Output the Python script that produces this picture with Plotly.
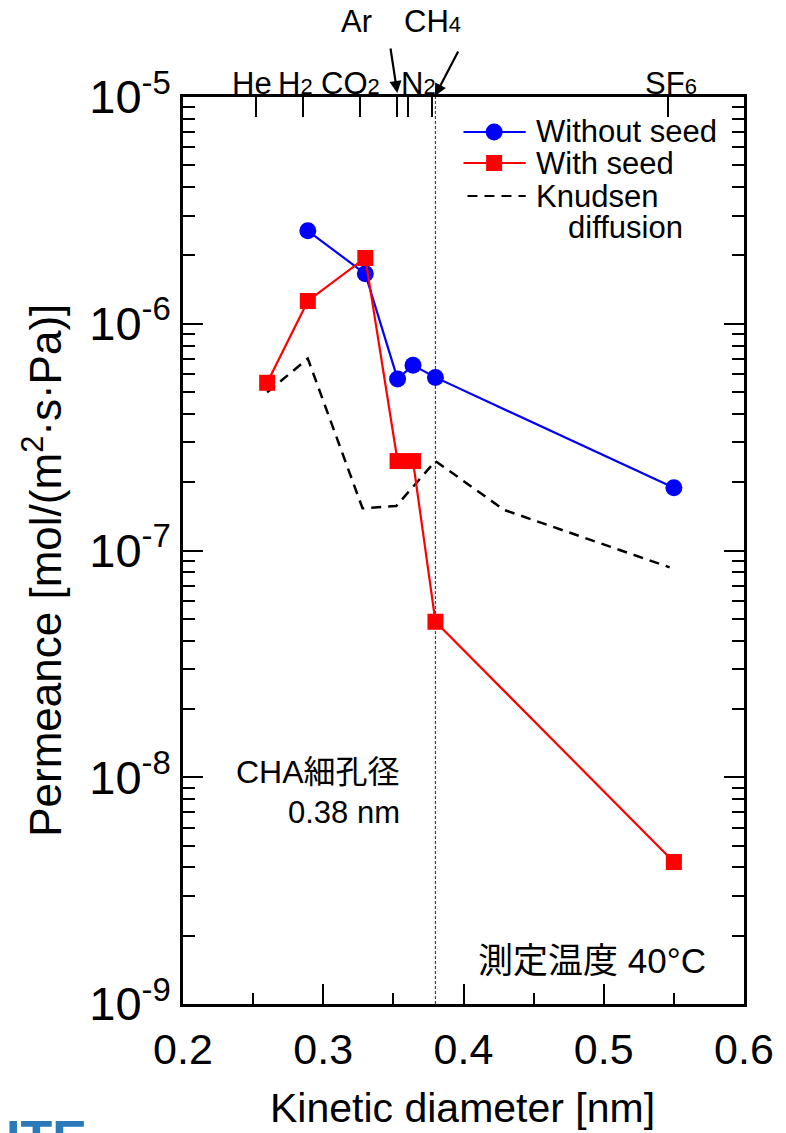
import plotly.graph_objects as go

# ---------------- data ----------------
x_without = [0.289, 0.33, 0.353, 0.364, 0.38, 0.55]
y_without = [2.57e-6, 1.66e-6, 5.71e-7, 6.56e-7, 5.80e-7, 1.89e-7]

x_with = [0.26, 0.289, 0.33, 0.353, 0.364, 0.38, 0.55]
y_with = [5.49e-7, 1.26e-6, 1.95e-6, 2.48e-7, 2.48e-7, 4.85e-8, 4.23e-9]

x_knudsen = [0.26, 0.289, 0.328, 0.352, 0.38, 0.429, 0.547]
y_knudsen = [4.98e-7, 7.02e-7, 1.535e-7, 1.57e-7, 2.48e-7, 1.51e-7, 8.43e-8]

gas_names = ["He", "H<span style='font-size:22px'>2</span>",
             "CO<span style='font-size:22px'>2</span>", "Ar",
             "N<span style='font-size:22px'>2</span>",
             "CH<span style='font-size:22px'>4</span>",
             "SF<span style='font-size:22px'>6</span>"]
gas_tick_x = [0.252, 0.2855, 0.3265, 0.3528, 0.3604, 0.3775, 0.546]

pore_diameter = 0.38

y_tickvals = [1e-9, 1e-8, 1e-7, 1e-6, 1e-5]
y_ticktext = ["10<sup>-9</sup>", "10<sup>-8</sup>", "10<sup>-7</sup>",
              "10<sup>-6</sup>", "10<sup>-5</sup>"]
x_tickvals = [0.2, 0.3, 0.4, 0.5, 0.6]
x_ticktext = ["0.2", "0.3", "0.4", "0.5", "0.6"]

# ---------------- layout geometry ----------------
W, H = 786, 1133
ML, MR, MT, MB = 183, 35, 97, 129
PW, PH = W - ML - MR, H - MT - MB


def fx(px):
    return (px - ML) / PW


def fy(py):
    return (H - MB - py) / PH


FONT = "Liberation Sans, Arial, sans-serif"
JFONT = "Liberation Sans, Noto Sans CJK JP, sans-serif"
BLUE = "#0000FF"
RED = "#FF0000"

fig = go.Figure()

fig.add_trace(go.Scatter(x=x_knudsen, y=y_knudsen, mode="lines",
                         line=dict(color="black", width=2.5, dash="10px,7px"),
                         showlegend=False, hoverinfo="skip"))
fig.add_trace(go.Scatter(x=x_without, y=y_without, mode="lines+markers",
                         line=dict(color=BLUE, width=2.2),
                         marker=dict(symbol="circle", size=17, color=BLUE),
                         name="Without seed", showlegend=False))
fig.add_trace(go.Scatter(x=x_with, y=y_with, mode="lines+markers",
                         line=dict(color=RED, width=2.2),
                         marker=dict(symbol="square", size=16, color=RED),
                         name="With seed", showlegend=False))

# invisible trace carrying the top (gas) axis
fig.add_trace(go.Scatter(x=gas_tick_x, y=[1e-9] * len(gas_tick_x), xaxis="x2",
                         mode="markers", marker=dict(opacity=0),
                         showlegend=False, hoverinfo="skip"))

# ---------- manual legend on an overlay [0,1] axis pair ----------
leg_x0, leg_x1, leg_xm = fx(467), fx(530), fx(498)
leg_rows = [fy(132), fy(163), fy(196)]
fig.add_trace(go.Scatter(x=[leg_x0, leg_x1], y=[leg_rows[0]] * 2, xaxis="x3", yaxis="y3",
                         mode="lines", line=dict(color=BLUE, width=2.2),
                         showlegend=False, hoverinfo="skip"))
fig.add_trace(go.Scatter(x=[leg_xm], y=[leg_rows[0]], xaxis="x3", yaxis="y3",
                         mode="markers", marker=dict(symbol="circle", size=17, color=BLUE),
                         showlegend=False, hoverinfo="skip"))
fig.add_trace(go.Scatter(x=[leg_x0, leg_x1], y=[leg_rows[1]] * 2, xaxis="x3", yaxis="y3",
                         mode="lines", line=dict(color=RED, width=2.2),
                         showlegend=False, hoverinfo="skip"))
fig.add_trace(go.Scatter(x=[leg_xm], y=[leg_rows[1]], xaxis="x3", yaxis="y3",
                         mode="markers", marker=dict(symbol="square", size=16, color=RED),
                         showlegend=False, hoverinfo="skip"))
fig.add_trace(go.Scatter(x=[fx(471), leg_x1], y=[leg_rows[2]] * 2, xaxis="x3", yaxis="y3",
                         mode="lines", line=dict(color="black", width=2.2, dash="10px,7px"),
                         showlegend=False, hoverinfo="skip"))

annotations = []
leg_text = [("Without seed", 538, 132), ("With seed", 538, 163),
            ("Knudsen", 538, 196), ("diffusion", 571, 228)]
for t, px, py in leg_text:
    annotations.append(dict(text=t, x=fx(px), y=fy(py), xref="paper", yref="paper",
                            xanchor="left", yanchor="middle", showarrow=False,
                            font=dict(family=FONT, size=31, color="black")))

# axis titles
annotations.append(dict(text="Kinetic diameter [nm]", x=fx(466), y=fy(1108),
                        xref="paper", yref="paper", xanchor="center", yanchor="middle",
                        showarrow=False, font=dict(family=FONT, size=41, color="black")))
annotations.append(dict(text="Permeance [mol/(m<sup>2</sup>·s·Pa)]", x=fx(40), y=fy(570),
                        xref="paper", yref="paper", xanchor="center", yanchor="middle",
                        textangle=-90, showarrow=False,
                        font=dict(family=FONT, size=44, color="black")))

# in-plot notes
annotations.append(dict(text="CHA細孔径", x=fx(405), y=fy(772), xref="paper", yref="paper",
                        xanchor="right", yanchor="middle", showarrow=False,
                        font=dict(family=JFONT, size=32, color="black")))
annotations.append(dict(text="0.38 nm", x=fx(405), y=fy(812), xref="paper", yref="paper",
                        xanchor="right", yanchor="middle", showarrow=False,
                        font=dict(family=JFONT, size=31, color="black")))
annotations.append(dict(text="測定温度 40°C", x=fx(715), y=fy(960), xref="paper", yref="paper",
                        xanchor="right", yanchor="middle", showarrow=False,
                        font=dict(family=JFONT, size=35, color="black")))

# gas labels on the top axis
label_shift = {"He": -4, "H2": -7, "CO2": -10, "N2": 11, "SF6": 3}
plain = ["He", "H2", "CO2", "Ar", "N2", "CH4", "SF6"]
for name, key, gx in zip(gas_names, plain, gas_tick_x):
    if key in ("Ar", "CH4"):
        continue
    annotations.append(dict(text=name, x=gx, y=fy(83), xref="x", yref="paper",
                            xshift=label_shift[key], xanchor="center", yanchor="middle",
                            showarrow=False, font=dict(family=FONT, size=31, color="black")))

# Ar and CH4 with arrows
ar_x = gas_tick_x[plain.index("Ar")]
ch4_x = gas_tick_x[plain.index("CH4")]
annotations.append(dict(text="", x=ar_x, y=fy(93), xref="x", yref="paper",
                        ax=-7, ay=-46, showarrow=True, arrowhead=2, arrowsize=1.1,
                        arrowwidth=2.2, arrowcolor="black"))
annotations.append(dict(text="", x=ch4_x, y=fy(96), xref="x", yref="paper", xshift=3,
                        ax=24, ay=-46, showarrow=True, arrowhead=2, arrowsize=1.1,
                        arrowwidth=2.2, arrowcolor="black"))
annotations.append(dict(text="Ar", x=fx(359), y=fy(21), xref="paper", yref="paper",
                        xanchor="center", yanchor="middle", showarrow=False,
                        font=dict(family=FONT, size=31, color="black")))
annotations.append(dict(text="CH<span style='font-size:22px'>4</span>", x=fx(436), y=fy(21),
                        xref="paper", yref="paper", xanchor="center", yanchor="middle",
                        showarrow=False, font=dict(family=FONT, size=31, color="black")))

# cropped logo fragment, bottom-left
annotations.append(dict(text="<b>ITE</b>", x=fx(88), y=fy(1108), xref="paper", yref="paper",
                        xanchor="right", yanchor="top", showarrow=False,
                        font=dict(family=FONT, size=52, color="#2a7ab9")))

shapes = [dict(type="line", xref="x", yref="paper", x0=pore_diameter, x1=pore_diameter,
               y0=0, y1=1, line=dict(color="#444444", width=1.2, dash="3px,2px"), layer="below")]

fig.update_layout(
    width=W, height=H, autosize=False,
    margin=dict(l=ML, r=MR, t=MT, b=MB, pad=0),
    paper_bgcolor="white", plot_bgcolor="white",
    showlegend=False,
    annotations=annotations,
    shapes=shapes,
    xaxis=dict(range=[0.2, 0.6], tickvals=x_tickvals, ticktext=x_ticktext,
               ticks="inside", ticklen=20, tickwidth=2, tickcolor="black",
               showline=True, linecolor="black", linewidth=2.5, mirror=True,
               showgrid=False, zeroline=False, ticklabelstandoff=6,
               tickfont=dict(family=FONT, size=43, color="black"),
               minor=dict(ticks="inside", ticklen=11, tickwidth=2, tickcolor="black",
                          tickvals=[0.25, 0.35, 0.45, 0.55], showgrid=False)),
    xaxis2=dict(range=[0.2, 0.6], overlaying="x", side="top", anchor="y",
                tickvals=gas_tick_x, ticks="inside", ticklen=20, tickwidth=2,
                tickcolor="black", showticklabels=False, showgrid=False,
                zeroline=False, showline=False),
    yaxis=dict(type="log", range=[-9, -5], tickvals=y_tickvals, ticktext=y_ticktext,
               ticks="inside", ticklen=20, tickwidth=2, tickcolor="black",
               showline=True, linecolor="black", linewidth=2.5, mirror="ticks",
               showgrid=False, zeroline=False,
               tickfont=dict(family=FONT, size=47, color="black"),
               minor=dict(ticks="inside", ticklen=12, tickwidth=2, tickcolor="black",
                          dtick="D1", showgrid=False)),
    xaxis3=dict(range=[0, 1], overlaying="x", visible=False, anchor="y3"),
    yaxis3=dict(range=[0, 1], overlaying="y", visible=False, anchor="x3"),
)

fig.write_html("out.html")
